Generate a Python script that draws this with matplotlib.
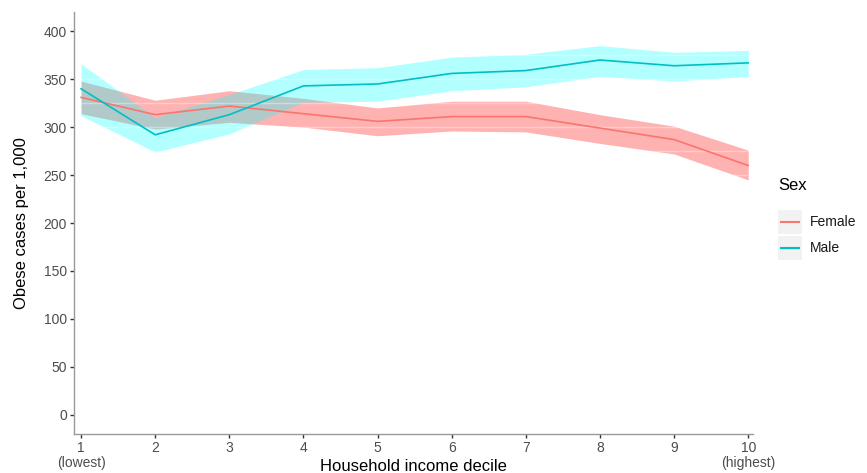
import numpy as np
import matplotlib
matplotlib.use("Agg")
from matplotlib import pyplot as plt
from matplotlib.lines import Line2D
from matplotlib.patches import Rectangle

plt.rcParams["font.family"] = ["Liberation Sans", "DejaVu Sans"]

# Data
decile = [1, 2, 3, 4, 5, 6, 7, 8, 9, 10]
tick_labels = ["1\n(lowest)", "2", "3", "4", "5", "6", "7", "8", "9", "10\n(highest)"]

female = [331, 313, 322, 314, 306, 311, 311, 299, 287, 260]
female_lo = [314, 298, 305, 300, 291, 296, 295, 283, 272, 245]
female_hi = [348, 328, 338, 330, 320, 327, 327, 313, 301, 276]

male = [340, 292, 313, 343, 345, 356, 359, 370, 364, 367]
male_lo = [312, 274, 293, 326, 327, 338, 342, 353, 348, 353]
male_hi = [366, 310, 334, 360, 362, 373, 376, 385, 378, 380]

red_line = "#F8766D"
cyan_line = "#00BFC4"

fig = plt.figure(figsize=(8.67, 4.73), dpi=100)
ax = fig.add_axes([0.0854, 0.0825, 0.7836, 0.892])

ax.fill_between(decile, female_lo, female_hi, color="red", alpha=0.3, linewidth=0, zorder=1)
ax.fill_between(decile, male_lo, male_hi, color="cyan", alpha=0.3, linewidth=0, zorder=1)

# faint grid lines showing through the ribbons
for gy in np.arange(0, 426, 25):
    ax.axhline(gy, color="white", lw=1.0, alpha=0.35, zorder=2)

ax.plot(decile, female, color=red_line, lw=1.2, zorder=3)
ax.plot(decile, male, color=cyan_line, lw=1.2, zorder=3)

ax.set_xlim(0.905, 10.07)
ax.set_ylim(-20, 420)
ax.set_xticks(decile)
ax.set_xticklabels(tick_labels, linespacing=1.1)
ax.set_yticks(range(0, 401, 50))

for s in ["top", "right"]:
    ax.spines[s].set_visible(False)
for s in ["left", "bottom"]:
    ax.spines[s].set_color("#999999")
    ax.spines[s].set_linewidth(1.0)
ax.tick_params(axis="both", direction="out", length=3, width=1, color="#333333",
               labelcolor="#4D4D4D", labelsize=10, pad=2)

fig.text(413 / 867, 1 - 466 / 473, "Household income decile", fontsize=12,
         ha="center", va="center", color="black")
fig.text(22 / 867, 1 - 223 / 473, "Obese cases per 1,000", fontsize=12,
         ha="center", va="center", rotation=90, color="black")

# legend
fig.text(778 / 867, 1 - 186 / 473, "Sex", fontsize=12, va="center", ha="left")
for i, (lab, col) in enumerate([("Female", red_line), ("Male", cyan_line)]):
    yc = 222 + i * 26
    fig.patches.append(Rectangle((778 / 867, 1 - (yc + 12) / 473), 24 / 867, 24 / 473,
                                 transform=fig.transFigure, color="#F2F2F2", lw=0))
    fig.lines.append(Line2D([781 / 867, 799 / 867], [1 - yc / 473, 1 - yc / 473],
                            transform=fig.transFigure, color=col, lw=1.5))
    fig.text(810 / 867, 1 - yc / 473, lab, fontsize=10, va="center", ha="left", color="#1a1a1a")

fig.savefig("out.png", dpi=100)
